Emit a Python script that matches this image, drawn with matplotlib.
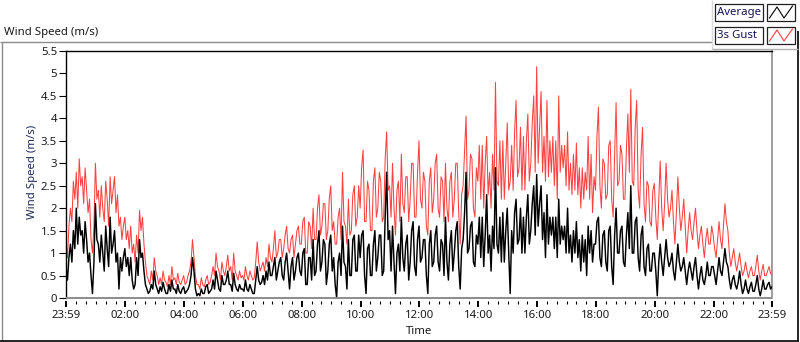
import numpy as np
import matplotlib
matplotlib.use("Agg")
import matplotlib.pyplot as plt
from matplotlib.lines import Line2D
from matplotlib.patches import Rectangle

# ---------------- data (3-minute samples, 23:59 -> 23:59) ----------------
gust = [
    # 23:59 - 02:00
    1.3, 0.9, 1.6, 2.0, 1.7, 2.6, 2.2, 2.8, 2.0, 3.1, 2.5, 2.7, 2.1, 2.9, 2.4, 1.9, 2.2, 1.3, 1.0, 1.6,
    3.0, 2.2, 2.4, 1.8, 2.5, 2.0, 1.7, 2.6, 2.2, 1.6, 2.7, 2.1, 2.4, 2.7, 1.9, 2.3, 1.6, 1.8, 1.3, 1.6,
    # 02:00 - 04:00
    1.8, 1.3, 1.5, 1.1, 1.6, 1.0, 1.2, 0.8, 1.4, 1.0, 1.95, 1.5, 1.8, 1.2, 0.8, 0.5, 0.4, 0.3, 0.6, 0.4,
    0.9, 0.6, 0.5, 0.3, 0.45, 0.3, 0.6, 0.4, 0.35, 0.25, 0.5, 0.3, 0.7, 0.4, 0.45, 0.3, 0.55, 0.35, 0.3, 0.4,
    # 04:00 - 06:00
    0.5, 0.3, 0.35, 0.5, 0.6, 0.8, 1.3, 0.9, 0.5, 0.3, 0.3, 0.2, 0.45, 0.3, 0.25, 0.4, 0.5, 0.3, 0.35, 0.5,
    0.7, 0.5, 1.0, 0.7, 0.6, 0.4, 0.8, 0.6, 0.5, 0.7, 0.95, 0.6, 0.7, 0.4, 1.0, 0.6, 0.5, 0.4, 0.6, 0.45,
    # 06:00 - 08:00
    0.5, 0.4, 0.7, 0.5, 0.4, 0.6, 0.5, 0.4, 0.45, 0.8, 1.25, 0.8, 0.6, 0.7, 0.8, 0.6, 0.9, 0.7, 1.2, 0.9,
    0.8, 1.1, 1.5, 0.9, 1.0, 1.3, 1.3, 0.9, 1.1, 1.4, 1.6, 1.1, 1.0, 1.3, 1.4, 0.9, 1.2, 1.5, 1.6, 1.2,
    # 08:00 - 10:00
    1.2, 1.7, 1.8, 1.0, 1.0, 1.7, 1.6, 1.1, 2.0, 1.3, 1.3, 2.0, 2.3, 1.4, 1.6, 2.1, 2.1, 1.3, 1.5, 2.2,
    2.5, 1.5, 1.7, 1.2, 1.2, 1.8, 2.0, 1.3, 2.8, 1.7, 1.6, 1.2, 2.2, 1.4, 1.5, 2.3, 2.5, 1.6, 1.8, 2.5,
    # 10:00 - 12:00
    2.0, 2.9, 3.3, 1.7, 1.7, 2.6, 2.4, 1.5, 1.5, 2.6, 2.9, 1.8, 2.0, 2.8, 2.6, 1.7, 1.8, 3.1, 3.7, 2.4,
    2.5, 1.8, 3.0, 2.0, 1.4, 2.4, 2.6, 1.7, 3.2, 2.1, 1.9, 2.7, 2.7, 1.7, 2.2, 3.0, 3.0, 1.8, 1.8, 2.8,
    # 12:00 - 14:00
    3.5, 2.2, 2.0, 2.8, 2.6, 1.6, 1.4, 2.6, 2.9, 1.9, 2.2, 3.0, 3.2, 2.0, 1.8, 2.7, 2.6, 1.7, 3.0, 2.0,
    1.7, 2.6, 2.8, 1.8, 2.2, 3.0, 3.0, 1.9, 1.2, 2.3, 2.5, 3.3, 4.05, 2.2, 2.4, 3.2, 3.1, 2.0, 1.8, 2.9,
    # 14:00 - 16:00
    2.6, 3.4, 2.2, 3.4, 2.0, 3.0, 3.6, 2.3, 2.8, 2.0, 3.2, 2.4, 4.8, 2.6, 2.5, 3.5, 2.2, 3.5, 2.2, 3.0,
    3.9, 2.4, 2.6, 3.4, 2.4, 3.7, 4.4, 2.7, 2.9, 3.8, 2.4, 3.6, 2.4, 3.5, 4.1, 2.6, 3.0, 3.9, 4.5, 2.8,
    # 16:00 - 18:00
    5.15, 3.0, 3.8, 4.6, 2.8, 3.6, 2.6, 4.4, 2.7, 3.5, 2.8, 3.6, 2.5, 3.5, 2.2, 4.5, 2.8, 3.4, 2.9, 3.4,
    2.5, 3.7, 2.4, 3.0, 2.3, 3.2, 2.4, 3.45, 2.3, 2.9, 2.0, 2.9, 2.2, 2.8, 2.4, 3.6, 2.2, 3.2, 1.9, 2.7,
    # 18:00 - 20:00
    2.4, 3.6, 4.25, 2.5, 2.0, 3.1, 3.0, 2.2, 2.3, 3.4, 3.5, 2.2, 1.8, 3.2, 4.35, 2.5, 2.6, 3.4, 3.2, 2.2,
    2.2, 3.3, 4.1, 2.8, 4.65, 2.6, 2.5, 3.8, 4.4, 2.4, 2.0, 3.2, 3.8, 2.1, 1.7, 2.6, 2.5, 1.7, 1.6, 2.4,
    # 20:00 - 22:00
    2.55, 1.8, 1.3, 2.2, 3.05, 2.0, 1.5, 2.1, 3.0, 2.2, 1.8, 2.0, 2.4, 1.7, 1.2, 1.9, 2.7, 2.0, 1.5, 1.8,
    2.2, 1.6, 1.0, 1.5, 1.9, 1.5, 1.3, 1.7, 2.0, 1.5, 1.1, 1.4, 1.6, 1.2, 0.9, 1.3, 1.55, 1.2, 1.2, 1.6,
    # 22:00 - 23:59
    1.4, 1.1, 0.9, 1.3, 1.7, 1.3, 1.1, 1.6, 2.1, 1.7, 1.5, 1.0, 0.7, 0.9, 1.1, 0.8, 0.6, 0.8, 1.0, 0.7,
    0.5, 0.6, 0.8, 0.6, 0.45, 0.6, 0.7, 0.5, 0.5, 0.7, 0.95, 0.6, 0.4, 0.6, 0.75, 0.5, 0.5, 0.6, 0.7, 0.55,
    0.5,
]
average = [
    0.7, 0.4, 0.9, 1.2, 0.8, 1.5, 1.1, 2.0, 1.2, 1.8, 1.4, 1.5, 1.0, 1.7, 1.3, 0.8, 1.0, 0.5, 0.1, 0.8,
    2.1, 1.3, 1.2, 0.8, 1.4, 1.0, 0.6, 1.6, 1.1, 0.7, 1.8, 1.0, 1.2, 1.5, 0.8, 1.0, 0.2, 0.9, 0.6, 0.9,
    1.1, 0.7, 0.9, 0.5, 0.9, 0.4, 0.2, 0.3, 0.9, 0.5, 1.3, 0.9, 1.0, 0.6, 0.3, 0.2, 0.1, 0.15, 0.3, 0.2,
    0.6, 0.3, 0.2, 0.1, 0.25, 0.15, 0.35, 0.2, 0.1, 0.1, 0.3, 0.15, 0.4, 0.2, 0.2, 0.1, 0.3, 0.15, 0.1, 0.2,
    0.25, 0.1, 0.15, 0.2, 0.3, 0.5, 0.9, 0.6, 0.2, 0.05, 0.1, 0.05, 0.2, 0.1, 0.1, 0.25, 0.3, 0.1, 0.15, 0.2,
    0.4, 0.2, 0.6, 0.4, 0.2, 0.15, 0.5, 0.3, 0.3, 0.4, 0.6, 0.3, 0.3, 0.15, 0.55, 0.3, 0.2, 0.15, 0.3, 0.2,
    0.2, 0.15, 0.4, 0.2, 0.15, 0.3, 0.2, 0.1, 0.1, 0.4, 0.7, 0.4, 0.3, 0.35, 0.5, 0.3, 0.6, 0.4, 0.8, 0.5,
    0.5, 0.7, 0.9, 0.4, 0.6, 0.8, 0.9, 0.5, 0.4, 0.8, 1.0, 0.6, 0.2, 0.7, 0.9, 0.4, 0.6, 0.9, 1.0, 0.6,
    0.5, 1.0, 1.1, 0.3, 0.3, 0.9, 0.9, 0.4, 1.3, 0.5, 0.6, 1.2, 1.5, 0.6, 0.8, 1.3, 1.2, 0.3, 0.6, 1.2,
    1.4, 0.6, 0.9, 0.3, 0.0, 0.8, 1.0, 0.5, 1.6, 0.8, 0.7, 0.2, 1.3, 0.5, 0.5, 1.3, 1.4, 0.6, 0.6, 1.4,
    0.9, 1.4, 1.5, 0.5, 0.1, 1.1, 1.2, 0.5, 0.5, 1.2, 1.5, 0.6, 0.9, 1.4, 1.4, 0.5, 0.6, 1.8, 2.8, 1.3,
    1.5, 0.6, 1.6, 0.8, 0.1, 1.0, 1.2, 0.6, 1.8, 0.9, 0.6, 1.2, 1.4, 0.4, 0.8, 1.5, 1.7, 0.7, 0.5, 1.3,
    1.6, 0.8, 0.9, 1.3, 1.3, 0.5, 0.1, 1.2, 1.5, 0.7, 0.8, 1.4, 1.6, 0.8, 0.6, 1.3, 1.2, 0.5, 1.8, 0.8,
    0.4, 1.2, 1.5, 0.6, 1.0, 1.5, 1.7, 0.7, 0.2, 1.1, 1.3, 1.9, 2.8, 1.0, 1.1, 1.6, 1.7, 0.8, 0.7, 1.4,
    1.2, 1.8, 0.9, 1.8, 0.7, 1.4, 2.3, 1.0, 1.4, 0.6, 1.6, 1.1, 2.9, 1.2, 1.0, 1.8, 0.8, 1.9, 0.8, 1.5,
    2.0, 1.0, 0.1, 1.5, 1.0, 1.9, 2.2, 1.2, 1.3, 2.0, 1.0, 1.8, 1.0, 1.8, 2.3, 1.2, 1.5, 2.1, 2.5, 1.4,
    2.75, 1.6, 2.1, 2.5, 1.3, 1.9, 0.9, 2.3, 1.2, 1.8, 1.4, 1.8, 1.1, 1.8, 0.9, 2.2, 1.2, 1.6, 1.3, 1.6,
    1.0, 2.0, 1.0, 1.4, 0.8, 1.5, 1.0, 1.7, 0.9, 1.3, 0.6, 1.4, 0.8, 1.3, 0.5, 1.6, 1.0, 1.5, 0.8, 1.2,
    1.2, 1.7, 1.8, 0.9, 0.7, 1.4, 1.5, 0.8, 0.6, 1.5, 1.6, 0.7, 0.3, 1.4, 2.0, 1.0, 1.0, 1.5, 1.6, 0.8,
    0.7, 1.4, 1.9, 1.1, 2.5, 1.0, 1.0, 1.7, 1.8, 0.9, 0.6, 1.4, 1.6, 0.7, 0.5, 1.1, 1.2, 0.6, 0.6, 1.0,
    1.0, 0.6, 0.05, 0.8, 1.2, 0.8, 0.5, 0.9, 1.3, 0.9, 0.7, 0.8, 1.0, 0.6, 0.4, 0.8, 1.2, 0.8, 0.6, 0.7,
    0.9, 0.6, 0.3, 0.6, 0.8, 0.6, 0.4, 0.7, 0.9, 0.5, 0.2, 0.5, 0.7, 0.4, 0.3, 0.5, 0.8, 0.5, 0.5, 0.7,
    0.7, 0.5, 0.3, 0.6, 0.9, 0.6, 0.5, 0.8, 1.1, 0.8, 0.7, 0.4, 0.2, 0.4, 0.5, 0.3, 0.2, 0.35, 0.6, 0.3,
    0.1, 0.2, 0.4, 0.2, 0.1, 0.25, 0.35, 0.15, 0.15, 0.3, 0.5, 0.2, 0.05, 0.2, 0.4, 0.2, 0.2, 0.3, 0.35, 0.2,
    0.25,
]
tick_minutes = [0, 121, 241, 361, 481, 601, 721, 841, 961, 1081, 1201, 1321, 1440]
tick_labels = ["23:59", "02:00", "04:00", "06:00", "08:00", "10:00", "12:00",
               "14:00", "16:00", "18:00", "20:00", "22:00", "23:59"]
y_ticks = [0, 0.5, 1, 1.5, 2, 2.5, 3, 3.5, 4, 4.5, 5, 5.5]
y_tick_labels = ["0", "0.5", "1", "1.5", "2", "2.5", "3", "3.5", "4", "4.5", "5", "5.5"]
series_names = ["Average", "3s Gust"]

# ---------------- figure ----------------
W, H = 800, 342
plt.rcParams['font.family'] = ['Noto Sans', 'DejaVu Sans']
fig = plt.figure(figsize=(W / 100, H / 100), dpi=100)
fig.patch.set_facecolor("white")

def fx(x):
    return x / W

def fy(y):
    return 1 - y / H

L, R, T, B = 66, 772, 51, 298
ax = fig.add_axes([fx(L), fy(B), (R - L) / W, (B - T) / H])
ax.set_facecolor("white")

RED = "#ff4040"
ax.plot(np.linspace(0, 1440, len(gust)), gust, color=RED, lw=0.75, zorder=2,
        antialiased=True)
ax.plot(np.linspace(0, 1440, len(average)), average, color="black", lw=1.05, zorder=3,
        antialiased=True)

ax.set_xlim(0, 1440)
ax.set_ylim(0, 5.5)

# spines: sunken look
for s in ("top", "left"):
    ax.spines[s].set_color("black")
    ax.spines[s].set_linewidth(1.0)
ax.spines["right"].set_color("#8c8c8c")
ax.spines["right"].set_linewidth(1.2)
ax.spines["bottom"].set_visible(False)
ax.spines["bottom"].set_position(("outward", 2.5))
ax.plot([0, 1], [0, 0], transform=ax.transAxes, color="#8c8c8c", lw=1.4,
        clip_on=False, zorder=5, solid_capstyle="butt")

ax.set_yticks(y_ticks)
ax.set_yticklabels(y_tick_labels)
ax.set_xticks(tick_minutes)
ax.set_xticklabels(tick_labels)
minor = [m for m in range(1, 1440, 20) if all(abs(m - k) > 5 for k in tick_minutes)]
ax.set_xticks(minor, minor=True)

TXT = "#1a1a1a"
ax.tick_params(axis="y", length=5, width=0.8, color="black", pad=1.5,
               labelsize=8.2, labelcolor=TXT)
ax.tick_params(axis="x", which="major", length=4, width=1.4, color="black",
               pad=2.5, labelsize=8.2, labelcolor=TXT)
ax.tick_params(axis="x", which="minor", length=2, width=0.8, color="black")

# labels
fig.text(fx(32), fy(172), "Wind Speed (m/s)", rotation=90, ha="center",
         va="center", fontsize=8.2, color="#1c2858")
fig.text(fx(419), fy(331), "Time", ha="center", va="center", fontsize=8.2, color=TXT)
fig.text(fx(4), fy(32), "Wind Speed (m/s)", ha="left", va="center", fontsize=8.2, color=TXT)

# outer frame
def fline(x0, y0, x1, y1, color, lw=1.0):
    fig.add_artist(Line2D([fx(x0), fx(x1)], [fy(y0), fy(y1)], color=color, lw=lw,
                          transform=fig.transFigure, solid_capstyle="butt"))

fline(0, 42, 712, 42, "#8c8c8c")
fline(1.5, 42, 1.5, 341, "#8c8c8c")
fline(0, 340.5, 799, 340.5, "black", 1.2)
fline(798, 31, 798, 341, "black", 1.2)
# legend panel
fline(712, 0, 712, 49, "#d8d8d8")
fline(712, 49, 798, 49, "#b0b0b0")

def box(x0, y0, x1, y1):
    fig.add_artist(Rectangle((fx(x0), fy(y1)), (x1 - x0) / W, (y1 - y0) / H,
                             transform=fig.transFigure, facecolor="white",
                             edgecolor="#202020", lw=0.9))

rows = [(4, 21, "black"), (27, 44, RED)]
for (y0, y1, col), name in zip(rows, series_names):
    box(715, y0, 763, y1)
    fig.text(fx(717), fy((y0 + y1) / 2 + 0.5), name, ha="left", va="center",
             fontsize=8.2, color="#14145a")
    box(767, y0, 795, y1)
    xs = [769.5, 777, 784, 792.5]
    ys = [y1 - 3, y0 + 3, y1 - 3, y0 + 2]
    fig.add_artist(Line2D([fx(v) for v in xs], [fy(v) for v in ys], color=col,
                          lw=0.8, transform=fig.transFigure))

fig.savefig("out.png", dpi=100, facecolor="white")
